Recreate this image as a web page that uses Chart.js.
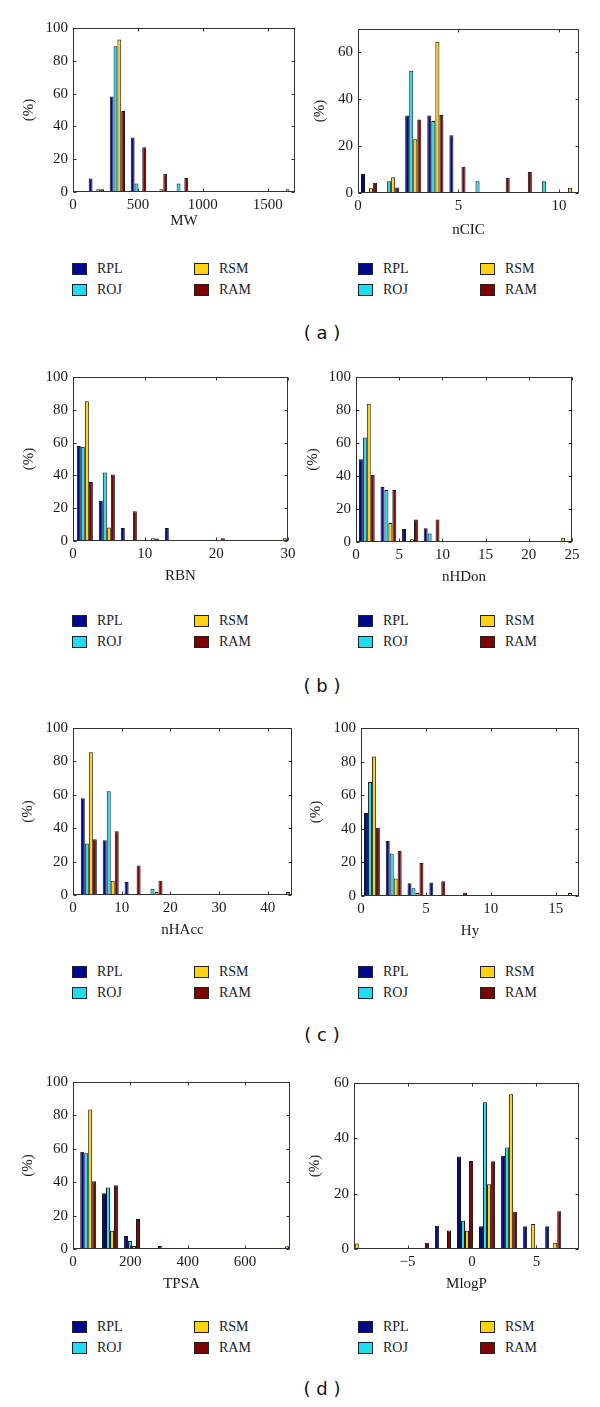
<!DOCTYPE html>
<html>
<head>
<meta charset="utf-8">
<script src="https://cdn.jsdelivr.net/npm/chart.js@4.4.1/dist/chart.umd.min.js"></script>
<style>
  html, body { margin: 0; padding: 0; background: #fff; }
  #fig { position: relative; width: 600px; height: 1407px; overflow: hidden; }
  .panel { position: absolute; }
  .item { position: absolute; height: 16px; display: flex; align-items: center; white-space: nowrap;
          font: 14px "Liberation Serif", serif; color: #1a1a1a; }
  .sw { width: 13px; height: 10px; border: 1px solid #222; margin-right: 10px; }
  .cap { position: absolute; transform: translate(-50%, -50%); white-space: pre;
         font: 18px "DejaVu Sans", sans-serif; color: #111; }
</style>
</head>
<body>
<div id="fig"></div>
<script>
/* ---- data (% of compounds per bin) ---- */
const SERIES = ["RPL", "ROJ", "RSM", "RAM"];

const pctTicks = [0, 20, 40, 60, 80, 100];
const pctTicksShort = [0, 20, 40, 60];

const mwBins = [180, 342, 504, 666, 828, 990, 1152, 1314, 1476, 1638];
const mwTicks = [0, 500, 1000, 1500];
const mwRPL = [8.3, 58.2, 33.3, 0, 0, 0, 0, 0, 0, 0];
const mwROJ = [0, 88.8, 5.2, 0, 5.2, 0, 0, 0, 0, 0];
const mwRSM = [1.7, 93, 0, 1.7, 0, 0, 0, 0, 0, 1.7];
const mwRAM = [1.7, 49.4, 27.3, 11.2, 8.5, 0, 0, 0, 0, 0];

const ncicBins = [0.55, 1.65, 2.75, 3.85, 4.95, 6.05, 7.15, 8.25, 9.35, 10.45];
const ncicTicks = [0, 5, 10];
const ncicRPL = [8.2, 0, 33.1, 33.1, 24.6, 0, 0, 0, 0, 0];
const ncicROJ = [0, 5, 52.2, 30.7, 0, 5, 0, 0, 5, 0];
const ncicRSM = [2, 6.7, 22.9, 64.6, 0, 0, 0, 0, 0, 2.2];
const ncicRAM = [4.4, 2.4, 31.4, 33.3, 11.2, 0, 6.5, 9, 0, 0];

const rbnBins = [1.65, 4.72, 7.79, 10.86, 13.93, 17.0, 20.07, 23.14, 26.21, 29.28];
const rbnTicks = [0, 10, 20, 30];
const rbnRPL = [57.9, 24.5, 7.9, 0, 7.9, 0, 0, 0, 0, 0];
const rbnROJ = [57.5, 41.7, 0, 0, 0, 0, 0, 0, 0, 0];
const rbnRSM = [85.2, 8.3, 0, 1.7, 0, 0, 0, 0, 0, 1.7];
const rbnRAM = [36, 40.5, 18.2, 1.6, 0, 0, 1.7, 0, 0, 0];

const nhdonBins = [1.25, 3.75, 6.25, 8.75, 11.25, 13.75, 16.25, 18.75, 21.25, 23.75];
const nhdonTicks = [0, 5, 10, 15, 20, 25];
const nhdonRPL = [50.2, 33.4, 7.9, 8.4, 0, 0, 0, 0, 0, 0];
const nhdonROJ = [63.4, 31.5, 0, 5.1, 0, 0, 0, 0, 0, 0];
const nhdonRSM = [83.8, 11.5, 1.6, 0, 0, 0, 0, 0, 0, 2.6];
const nhdonRAM = [40.8, 31.5, 13.6, 13.6, 0, 0, 0, 0, 0, 0];

const nhaccBins = [3.25, 7.75, 12.25, 16.75, 21.25, 25.75, 30.25, 34.75, 39.25, 43.75];
const nhaccTicks = [0, 10, 20, 30, 40];
const nhaccRPL = [58, 32.8, 7.8, 0, 0, 0, 0, 0, 0, 0];
const nhaccROJ = [30.8, 62.2, 0, 3.8, 0, 0, 0, 0, 0, 0];
const nhaccRSM = [85.5, 8.5, 0, 1.8, 0, 0, 0, 0, 0, 1.8];
const nhaccRAM = [33.4, 38.2, 17.7, 8.5, 0, 0, 0, 0, 0, 0];

const hyBins = [0.84, 2.52, 4.2, 5.88, 7.56, 9.24, 10.92, 12.6, 14.28, 15.96];
const hyTicks = [0, 5, 10, 15];
const hyRPL = [49.4, 32.7, 7.6, 8, 0, 0, 0, 0, 0, 0];
const hyROJ = [67.9, 25.3, 4.6, 0, 0, 0, 0, 0, 0, 0];
const hyRSM = [83, 10.4, 1.8, 0, 0, 0, 0, 0, 0, 1.8];
const hyRAM = [40.6, 26.9, 19.7, 8.8, 2, 0, 0, 0, 0, 0];

const tpsaBins = [53, 129, 206, 282, 358, 435, 511, 587, 664, 740];
const tpsaTicks = [0, 200, 400, 600];
const tpsaRPL = [58.2, 33.4, 7.8, 0, 0, 0, 0, 0, 0, 0];
const tpsaROJ = [57.4, 36.8, 4.8, 0, 0, 0, 0, 0, 0, 0];
const tpsaRSM = [83.6, 11, 1.8, 0, 0, 0, 0, 0, 0, 1.6];
const tpsaRAM = [40.6, 38.2, 18, 1.8, 0, 0, 0, 0, 0, 0];

const mlogpBins = [-9.09, -7.38, -5.67, -3.96, -2.25, -0.54, 1.17, 2.88, 4.59, 6.3];
const mlogpTicks = [-5, 0, 5];
const mlogpRPL = [0, 0, 0, 0, 8.4, 33.4, 8.2, 33.7, 8.2, 8.2];
const mlogpROJ = [0, 0, 0, 0, 0, 10.2, 53, 36.7, 0, 0];
const mlogpRSM = [2, 0, 0, 0, 0, 6.6, 23.4, 55.9, 9, 2.3];
const mlogpRAM = [0, 0, 0, 2.3, 6.7, 31.8, 31.7, 13.5, 0, 13.6];

/* ---- look ---- */
const COLORS = ["#00088f", "#20dcf2", "#ffd20f", "#7e0404"];
const INK = "#1a1a1a";
const SERIF = "'Liberation Serif', serif";

// box = [plotLeft, plotTop, plotRight, plotBottom] in page px
const PANELS = [
  { title: "MW", bins: mwBins, vals: [mwRPL, mwROJ, mwRSM, mwRAM], xTicks: mwTicks, yTicks: pctTicks,
    xMin: 0, xMax: 1710, yMax: 100, box: [73, 28, 295, 192], xDy: 29, yDx: 44 },
  { title: "nCIC", bins: ncicBins, vals: [ncicRPL, ncicROJ, ncicRSM, ncicRAM], xTicks: ncicTicks, yTicks: pctTicksShort,
    xMin: 0, xMax: 11, yMax: 70, box: [358, 29, 579, 193], xDy: 37, yDx: 38 },
  { title: "RBN", bins: rbnBins, vals: [rbnRPL, rbnROJ, rbnRSM, rbnRAM], xTicks: rbnTicks, yTicks: pctTicks,
    xMin: 0, xMax: 30, yMax: 100, box: [73, 377, 288, 541], xDy: 35, yDx: 44 },
  { title: "nHDon", bins: nhdonBins, vals: [nhdonRPL, nhdonROJ, nhdonRSM, nhdonRAM], xTicks: nhdonTicks, yTicks: pctTicks,
    xMin: 0, xMax: 25, yMax: 100, box: [356, 377, 572, 542], xDy: 35, yDx: 43 },
  { title: "nHAcc", bins: nhaccBins, vals: [nhaccRPL, nhaccROJ, nhaccRSM, nhaccRAM], xTicks: nhaccTicks, yTicks: pctTicks,
    xMin: 0, xMax: 45, yMax: 100, box: [73, 728, 292, 895], xDy: 35, yDx: 45 },
  { title: "Hy", bins: hyBins, vals: [hyRPL, hyROJ, hyRSM, hyRAM], xTicks: hyTicks, yTicks: pctTicks,
    xMin: 0, xMax: 16.8, yMax: 100, box: [361, 728, 579, 896], xDy: 35, yDx: 45 },
  { title: "TPSA", bins: tpsaBins, vals: [tpsaRPL, tpsaROJ, tpsaRSM, tpsaRAM], xTicks: tpsaTicks, yTicks: pctTicks,
    xMin: 0, xMax: 757, yMax: 100, box: [73, 1082, 290, 1249], xDy: 35, yDx: 45 },
  { title: "MlogP", bins: mlogpBins, vals: [mlogpRPL, mlogpROJ, mlogpRSM, mlogpRAM], xTicks: mlogpTicks, yTicks: pctTicksShort,
    xMin: -9.15, xMax: 8.3, yMax: 60, box: [354, 1083, 579, 1249], xDy: 35, yDx: 39 },
];

const ROWS = [
  { cap: "( a )", legendY: 269, capY: 332 },
  { cap: "( b )", legendY: 621, capY: 685 },
  { cap: "( c )", legendY: 972, capY: 1034 },
  { cap: "( d )", legendY: 1327, capY: 1388 },
];

const fig = document.getElementById("fig");

/* MATLAB-style box with inward tick marks on all four sides */
const boxPlugin = {
  id: "matlabBox",
  afterDatasetsDraw(chart) {
    const { ctx, chartArea: a, scales: { x, y } } = chart;
    const L = Math.round(a.left) + 0.5, R = Math.round(a.right) - 0.5;
    const T = Math.round(a.top) + 0.5, B = Math.round(a.bottom) - 0.5;
    ctx.save();
    ctx.strokeStyle = "#333";
    ctx.lineWidth = 1;
    ctx.strokeRect(L, T, R - L, B - T);
    ctx.beginPath();
    x.ticks.forEach(t => {
      const px = Math.round(x.getPixelForValue(t.value)) + 0.5;
      ctx.moveTo(px, B); ctx.lineTo(px, B - 3);
      ctx.moveTo(px, T); ctx.lineTo(px, T + 3);
    });
    y.ticks.forEach(t => {
      const py = Math.round(y.getPixelForValue(t.value)) + 0.5;
      ctx.moveTo(L, py); ctx.lineTo(L + 3, py);
      ctx.moveTo(R, py); ctx.lineTo(R - 3, py);
    });
    ctx.stroke();
    ctx.restore();
  },
};

function makePanel(p) {
  const [l, t, r, b] = p.box;
  const wrap = document.createElement("div");
  wrap.className = "panel";
  wrap.style.left = (l - 60) + "px";
  wrap.style.top = (t - 10) + "px";
  const cv = document.createElement("canvas");
  cv.width = (r - l) + 70;
  cv.height = (b - t) + 60;
  wrap.appendChild(cv);
  fig.appendChild(wrap);

  const datasets = SERIES.map((name, i) => ({
    label: name,
    data: p.bins.map((x, k) => ({ x, y: p.vals[i][k] })),
    backgroundColor: COLORS[i],
    borderColor: "#111",
    borderWidth: 1,
    borderSkipped: false,
    categoryPercentage: 0.73,
    barPercentage: 1,
  }));

  const tickFont = { family: SERIF, size: 15 };
  const titleFont = { family: SERIF, size: 15, lineHeight: 1.2 };

  new Chart(cv, {
    type: "bar",
    data: { datasets },
    options: {
      responsive: false,
      animation: false,
      devicePixelRatio: 1,
      layout: { padding: { top: 10, right: 10, left: 0, bottom: 0 } },
      plugins: { legend: { display: false }, tooltip: { enabled: false } },
      scales: {
        x: {
          type: "linear", min: p.xMin, max: p.xMax, offset: false,
          grid: { display: false, drawTicks: false }, border: { display: false },
          afterBuildTicks: s => { s.ticks = p.xTicks.map(v => ({ value: v })); },
          ticks: {
            padding: 4, maxRotation: 0, autoSkip: false, color: INK, font: tickFont,
            callback: v => String(v).replace("-", "\u2212"),
          },
          title: { display: true, text: p.title, color: INK, font: titleFont,
                   padding: { top: 0, bottom: 50 - p.xDy - 9 } },
          afterFit: s => { s.height = 50; s.paddingLeft = 0; s.paddingRight = 0; },
        },
        y: {
          min: 0, max: p.yMax,
          grid: { display: false, drawTicks: false }, border: { display: false },
          afterBuildTicks: s => { s.ticks = p.yTicks.map(v => ({ value: v })); },
          ticks: { padding: 5, autoSkip: false, color: INK, font: tickFont, callback: v => String(v) },
          title: { display: true, text: "(%)", color: INK, font: titleFont,
                   padding: { top: 60 - p.yDx - 9, bottom: 0 } },
          afterFit: s => { s.width = 60; s.paddingTop = 0; s.paddingBottom = 0; },
        },
      },
    },
    plugins: [boxPlugin],
  });
}

function legendItem(x, y, i) {
  const d = document.createElement("div");
  d.className = "item";
  d.style.left = x + "px";
  d.style.top = (y - 8) + "px";
  d.innerHTML = `<span class="sw" style="background:${COLORS[i]}"></span>${SERIES[i]}`;
  fig.appendChild(d);
}

PANELS.forEach(makePanel);

ROWS.forEach(row => {
  [72, 358].forEach(x0 => {
    legendItem(x0, row.legendY, 0);
    legendItem(x0 + 122, row.legendY, 2);
    legendItem(x0, row.legendY + 21, 1);
    legendItem(x0 + 122, row.legendY + 21, 3);
  });
  const c = document.createElement("div");
  c.className = "cap";
  c.style.left = "322px";
  c.style.top = row.capY + "px";
  c.textContent = row.cap;
  fig.appendChild(c);
});
</script>
</body>
</html>
